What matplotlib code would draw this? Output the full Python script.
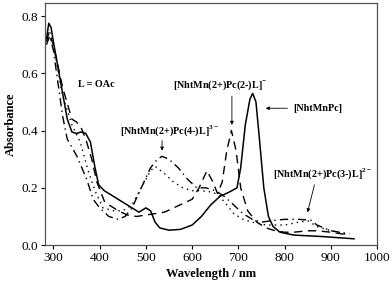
import numpy as np
import matplotlib
matplotlib.use("Agg")
import matplotlib.pyplot as plt

plt.rcParams["font.family"] = ["Liberation Serif", "DejaVu Serif"]
plt.rcParams["mathtext.fontset"] = "custom"
plt.rcParams["mathtext.bf"] = "Liberation Serif:bold"

# NhtMnPc (solid)
wl_a = [285, 290, 295, 300, 310, 320, 330, 340, 350, 360, 370, 380, 390, 398, 410, 430, 450, 470, 485,
        500, 510, 520, 530, 550, 575, 600, 620, 640, 660, 680, 697, 705, 715, 725, 731, 738, 745, 755,
        765, 775, 790, 820, 880, 950]
ab_a = [0.72, 0.775, 0.76, 0.71, 0.62, 0.53, 0.44, 0.395, 0.39, 0.395, 0.39, 0.36, 0.27, 0.21, 0.19,
        0.17, 0.15, 0.13, 0.115, 0.13, 0.12, 0.08, 0.06, 0.052, 0.055, 0.07, 0.10, 0.14, 0.17, 0.185,
        0.20, 0.27, 0.42, 0.51, 0.53, 0.50, 0.38, 0.20, 0.10, 0.065, 0.045, 0.035, 0.03, 0.022]

# [NhtMn(2+)Pc(2-)L]- (dashed)
wl_b = [285, 290, 300, 320, 340, 350, 360, 370, 383, 394, 411, 440, 460, 480, 500, 520, 540, 560, 580,
        600, 615, 632, 645, 655, 665, 675, 685, 695, 705, 720, 740, 760, 780, 800, 820, 850, 870, 900, 940]
ab_b = [0.71, 0.74, 0.70, 0.55, 0.44, 0.43, 0.41, 0.37, 0.30, 0.22, 0.15, 0.12, 0.105, 0.10, 0.105,
        0.11, 0.115, 0.13, 0.145, 0.16, 0.20, 0.26, 0.22, 0.18, 0.22, 0.33, 0.40, 0.33, 0.20, 0.12,
        0.08, 0.06, 0.05, 0.045, 0.045, 0.05, 0.05, 0.045, 0.035]

# [NhtMn(2+)Pc(3-)L]2- (dotted)
wl_c = [285, 291, 300, 320, 340, 358, 375, 390, 407, 430, 450, 470, 490, 510, 520, 540, 560, 580, 600,
        620, 645, 660, 690, 710, 730, 760, 800, 830, 850, 870, 900, 940]
ab_c = [0.72, 0.75, 0.70, 0.52, 0.42, 0.36, 0.26, 0.19, 0.13, 0.12, 0.12, 0.14, 0.20, 0.26, 0.275,
        0.25, 0.22, 0.20, 0.19, 0.19, 0.185, 0.17, 0.11, 0.09, 0.08, 0.07, 0.07, 0.08, 0.085, 0.065,
        0.05, 0.035]

# [NhtMn(2+)Pc(4-)L]3- (dash-dot)
wl_d = [285, 292, 300, 320, 330, 351, 372, 386, 400, 420, 440, 455, 470, 490, 510, 525, 535, 550, 570,
        590, 610, 630, 650, 670, 690, 710, 730, 750, 770, 800, 830, 857, 870, 900, 940]
ab_d = [0.70, 0.73, 0.68, 0.45, 0.37, 0.31, 0.23, 0.16, 0.13, 0.10, 0.09, 0.10, 0.13, 0.20, 0.27,
        0.30, 0.31, 0.30, 0.27, 0.23, 0.20, 0.20, 0.19, 0.17, 0.14, 0.11, 0.09, 0.08, 0.085, 0.09,
        0.09, 0.087, 0.07, 0.05, 0.04]

fig = plt.figure(figsize=(3.92, 2.87), dpi=100)
ax = fig.add_axes([0.115, 0.146, 0.847, 0.843])

ax.plot(wl_a, ab_a, color="k", lw=1.1, ls="-")
ax.plot(wl_b, ab_b, color="k", lw=1.0, ls=(0, (6, 4)))
ax.plot(wl_c, ab_c, color="k", lw=1.0, ls=(0, (1, 3)))
ax.plot(wl_d, ab_d, color="k", lw=1.0, ls=(0, (6, 3, 1, 3)))

ax.set_xlim(282, 1000)
ax.set_ylim(0, 0.845)
ax.set_xticks(range(300, 1001, 100))
ax.set_yticks([0.0, 0.2, 0.4, 0.6, 0.8])
ax.set_yticklabels(["0.0", "0.2", "0.4", "0.6", "0.8"])
ax.tick_params(direction="out", length=3, labelsize=9.5, top=False, right=False, pad=2)
for s in ax.spines.values():
    s.set_color("#555555")
    s.set_linewidth(0.9)

ax.set_xlabel("Wavelength / nm", fontsize=9, fontweight="bold", labelpad=3)
ax.set_ylabel("Absorbance", fontsize=9, fontweight="bold", labelpad=3)

fs = 7.3
ax.text(392, 0.56, "L = OAc", fontsize=fs, fontweight="bold", ha="center", va="center")
ax.text(660, 0.56, r"[NhtMn(2+)Pc(2-)L]$^{\mathbf{-}}$", fontsize=fs, fontweight="bold", ha="center", va="center")
ax.annotate("", xy=(686, 0.41), xytext=(686, 0.53),
            arrowprops=dict(arrowstyle="-|>", color="k", lw=0.6, mutation_scale=5))
ax.text(552, 0.40, r"[NhtMn(2+)Pc(4-)L]$^{\mathbf{3-}}$", fontsize=fs, fontweight="bold", ha="center", va="center")
ax.annotate("", xy=(535, 0.32), xytext=(535, 0.375),
            arrowprops=dict(arrowstyle="-|>", color="k", lw=0.6, mutation_scale=5))
ax.text(872, 0.478, "[NhtMnPc]", fontsize=fs, fontweight="bold", ha="center", va="center")
ax.annotate("", xy=(753, 0.478), xytext=(812, 0.478),
            arrowprops=dict(arrowstyle="-|>", color="k", lw=0.6, mutation_scale=5))
ax.text(883, 0.25, r"[NhtMn(2+)Pc(3-)L]$^{\mathbf{2-}}$", fontsize=fs, fontweight="bold", ha="center", va="center")
ax.annotate("", xy=(848, 0.105), xytext=(866, 0.22),
            arrowprops=dict(arrowstyle="-|>", color="k", lw=0.6, mutation_scale=5))

fig.savefig("out.png", dpi=100)
